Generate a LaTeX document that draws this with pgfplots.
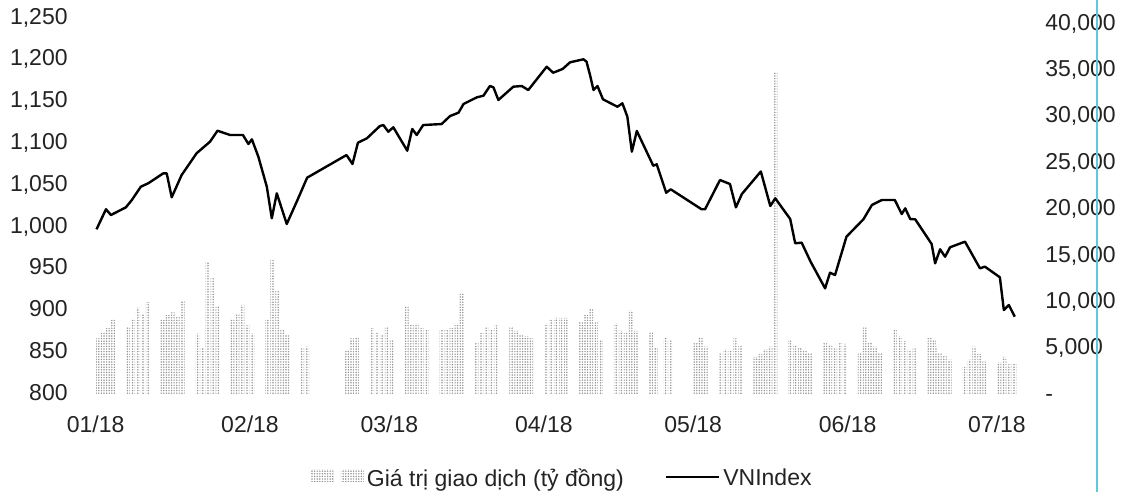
\documentclass[border=0pt]{standalone}
\usepackage{fontspec}
\setmainfont{Liberation Sans}
\usepackage{pgfplots}
\usepackage{pgfplotstable}
\pgfplotsset{compat=1.18}
\usetikzlibrary{patterns.meta}

\definecolor{scanline}{RGB}{95,200,222}
\definecolor{txt}{RGB}{35,35,35}
\tikzset{volpat/.style={pattern={Dots[distance=1.3pt,radius=0.42pt]}, pattern color=black!42}}

% trading value (ty dong), x = day of 2018 (1 Jan = 0)
\pgfplotstableread{
d v
1 6000
2 6600
3 7100
4 8000
7 7200
8 8000
9 9300
10 8700
11 9900
14 8000
15 8500
16 8800
17 8300
18 10100
21 6500
22 5000
23 14200
24 12500
25 9500
28 8000
29 8700
30 9600
31 7400
32 6500
35 8000
36 14500
37 11200
38 6900
39 6400
42 5000
43 5100
51 4700
52 6000
53 6100
56 7100
57 6600
58 6400
59 7200
60 5800
63 9400
64 7500
65 7600
66 7100
67 6900
70 6900
71 7000
72 7100
73 7600
74 10800
77 5600
78 6600
79 7200
80 6900
81 7400
84 7200
85 6800
86 6400
87 6200
88 6000
91 7600
92 8000
93 8200
94 8200
95 8200
98 7800
99 8500
100 9200
101 7800
102 5800
105 7600
106 6800
107 6600
108 9000
109 6800
112 6700
113 5000
115 6100
116 5800
121 5500
122 6100
123 5100
126 4500
127 4800
128 4700
129 6000
130 5200
133 4000
134 4300
135 4800
136 5100
137 34700
140 5800
141 5200
142 5000
143 4700
144 4400
147 5500
148 5300
149 5000
150 5600
151 5400
154 4500
155 7200
156 5500
157 5100
158 4500
161 6900
162 6200
163 5700
164 4700
165 4900
168 6100
169 5800
170 4400
171 4100
172 3700
175 2900
176 3700
177 5100
178 4300
179 3500
182 3400
183 4000
184 3200
185 3300
}\volume

% VNIndex
\pgfplotstableread{
d idx
0.7 995.9
2.6 1019.9
3.6 1013.0
6.6 1022.2
7.8 1031.0
9.6 1046.9
11.1 1051.0
14.1 1062.9
14.8 1062.9
15.8 1034.2
17.8 1060.9
20.8 1086.9
23.5 1100.8
25.0 1113.9
27.5 1108.8
30.1 1108.8
31.2 1098.0
31.9 1103.6
33.2 1082.8
34.9 1046.9
35.9 1009.1
36.9 1039.0
38.9 1002.3
40.9 1028.9
43.0 1057.7
50.9 1084.8
52.1 1074.1
53.2 1099.6
55.0 1104.8
57.6 1119.5
58.3 1120.7
59.3 1112.7
60.3 1118.0
63.1 1090.0
64.1 1116.0
65.0 1108.8
66.3 1120.7
70.0 1121.9
71.7 1131.5
73.4 1135.5
74.4 1145.9
77.1 1153.9
78.4 1155.8
79.7 1167.4
80.4 1165.9
81.4 1150.7
84.4 1166.6
86.1 1167.4
87.4 1162.6
91.1 1190.5
92.4 1183.3
94.3 1187.8
95.8 1195.8
98.5 1199.4
99.1 1196.5
99.8 1180.6
100.5 1162.6
101.3 1167.4
102.4 1151.5
105.3 1142.6
106.3 1146.7
107.3 1130.7
108.2 1088.8
109.2 1113.6
112.5 1072.0
113.2 1073.7
115.1 1039.7
116.0 1043.8
122.2 1019.9
122.9 1019.9
125.9 1054.9
127.9 1050.1
129.1 1022.2
130.3 1038.2
134.1 1065.1
136.0 1023.8
137.0 1033.0
140.0 1008.2
141.0 979.2
142.3 979.9
144.1 957.1
147.0 925.3
148.0 944.0
149.0 941.2
151.3 987.1
154.7 1007.9
156.4 1025.0
158.4 1031.0
161.0 1031.0
162.4 1014.2
163.1 1021.0
164.1 1008.2
165.1 1007.9
168.4 978.3
169.1 955.2
170.1 972.0
171.1 963.1
172.1 974.4
175.1 981.1
178.1 949.2
179.1 951.2
182.1 938.5
182.9 899.3
183.9 905.3
185.1 891.3
}\vnindex

\begin{document}
\begin{tikzpicture}
\pgfplotsset{
  base/.style={
    scale only axis, width=484pt,
    xmin=-4.22, xmax=190.16,
    axis line style={draw=none},
    major tick length=0pt,
    scaled y ticks=false,
    tick label style={font=\fontsize{11.5}{13}\selectfont, text=txt, inner sep=0pt},
    clip=false,
  },
  vnline/.style={legend image code/.code={\draw[##1] (0pt,0.12em) -- (26.5pt,0.12em);}},
  volimg/.style={legend image code/.code={
    \fill[volpat, draw=none] (0pt,-0.12em) rectangle (11.5pt,0.5em);
    \fill[volpat, draw=none] (15pt,-0.12em) rectangle (26.5pt,0.5em);}},
}
% right axis: trading value bars
\begin{axis}[base, at={(0pt,-0.5pt)}, anchor=south west, height=185.5pt,
  ymin=0, ymax=40000, hide x axis, axis y line*=right,
  ytick={0,5000,...,40000},
  yticklabels={-,{5,000},{10,000},{15,000},{20,000},{25,000},{30,000},{35,000},{40,000}},
  yticklabel shift=2.5pt,
  yticklabel style={anchor=west, text height=0.72em, text depth=0pt}]
\addplot[ybar, bar width=0.8, draw=none, volpat] table[x=d,y=v]{\volume};
\end{axis}
% left axis: VNIndex
\begin{axis}[base, at={(0pt,0pt)}, anchor=south west, height=188pt,
  ymin=800, ymax=1250, axis x line*=bottom, axis y line*=left,
  xtick={0,31,59,90,120,151,181},
  xticklabels={01/18,02/18,03/18,04/18,05/18,06/18,07/18},
  xticklabel shift=11pt,
  xticklabel style={anchor=north, xshift=1.3pt},
  ytick={800,850,...,1250},
  yticklabels={800,850,900,950,{1,000},{1,050},{1,100},{1,150},{1,200},{1,250}},
  yticklabel shift=2pt,
  yticklabel style={anchor=east, text height=0.72em, text depth=0pt},
  legend columns=2,
  legend cell align=left,
  legend style={at={(0.507,-0.229)}, anchor=center, draw=none, fill=none,
    font=\fontsize{11.5}{13}\selectfont, text=txt, inner sep=0pt,
    nodes={inner sep=1.5pt},
    /tikz/every even column/.append style={column sep=19pt}}]
\addlegendimage{volimg}
\addlegendentry{Giá trị giao dịch (tỷ đồng)}
\addplot[black, line width=1.2pt, line join=round, vnline]
  table[x=d,y=idx]{\vnindex};
\addlegendentry{VNIndex}
\end{axis}
\draw[scanline, line width=0.6pt] (512.5pt,-49.5pt) -- (512.5pt,196.5pt);
\pgfresetboundingbox
\useasboundingbox (-36pt,-49.5pt) rectangle (525.5pt,196.5pt);
\end{tikzpicture}
\end{document}
